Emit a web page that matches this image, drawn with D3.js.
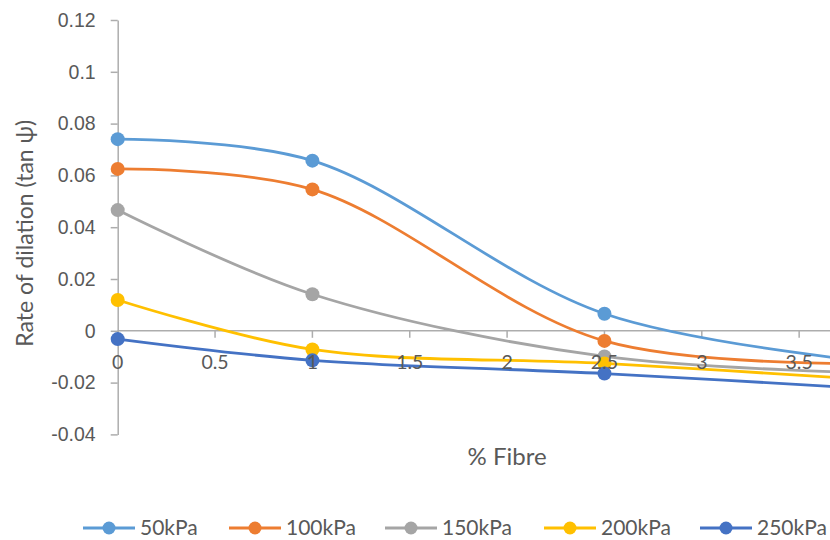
<!DOCTYPE html>
<html>
<head>
<meta charset="utf-8">
<script src="https://cdn.jsdelivr.net/npm/d3@7/dist/d3.min.js"></script>
<style>
  html, body { margin: 0; padding: 0; background: #fff; }
  svg { display: block; font-family: Lato, "Open Sans", sans-serif; }
</style>
</head>
<body>
<svg id="chart" width="830" height="540"></svg>
<script>
// Fibre content (%) at which dilation was measured
const fibre = [0, 1, 2.5, 4];

// Rate of dilation (tan ψ) per normal stress
const s50  = [0.0740, 0.0657, 0.0066, -0.0130];
const s100 = [0.0625, 0.0546, -0.0039, -0.0125];
const s150 = [0.0466, 0.0141, -0.0099, -0.0165];
const s200 = [0.0119, -0.0072, -0.0126, -0.0195];
const s250 = [-0.0032, -0.0114, -0.0165, -0.0230];

const seriesNames = ["50kPa", "100kPa", "150kPa", "200kPa", "250kPa"];
const seriesValues = [s50, s100, s150, s200, s250];
const colors = ["#5B9BD5", "#ED7D31", "#A5A5A5", "#FFC000", "#4472C4"];

const xTicks = [0, 0.5, 1, 1.5, 2, 2.5, 3, 3.5, 4];
const xTickLabels = ["0", "0.5", "1", "1.5", "2", "2.5", "3", "3.5"];
const yTicks = [0.12, 0.1, 0.08, 0.06, 0.04, 0.02, 0, -0.02, -0.04];
const yTickLabels = ["0.12", "0.1", "0.08", "0.06", "0.04", "0.02", "0", "-0.02", "-0.04"];

const svg = d3.select("#chart");
const axisColor = "#ADADAD";
const textColor = "#595959";

const x = d3.scaleLinear().domain([0, 4]).range([117.7, 896.5]);
const y = d3.scaleLinear().domain([-0.04, 0.12]).range([434.4, 20]);

// y axis
const yAxis = svg.append("g")
  .attr("transform", `translate(${x(0)},0)`)
  .call(d3.axisLeft(y).tickValues(yTicks)
    .tickFormat((d, i) => yTickLabels[i]).tickSize(7).tickPadding(15).tickSizeOuter(0));
yAxis.select(".domain").attr("stroke", axisColor).attr("stroke-width", 1.5);
yAxis.selectAll(".tick line").attr("stroke", axisColor).attr("stroke-width", 1.5);
yAxis.selectAll("text").attr("fill", textColor).style("font-size", "19.5px");

// x axis drawn along y = 0
const xAxisG = svg.append("g")
  .attr("transform", `translate(0,${y(0)})`);
xAxisG.append("line")
  .attr("x1", x(0)).attr("x2", 830)
  .attr("stroke", axisColor).attr("stroke-width", 1.5);
xAxisG.selectAll("line.tick").data(xTicks).join("line")
  .attr("class", "tick")
  .attr("x1", d => x(d)).attr("x2", d => x(d))
  .attr("y1", 0).attr("y2", 7)
  .attr("stroke", axisColor).attr("stroke-width", 1.5);

// smoothed curves through the measured points
const line = d3.line()
  .x((d, i) => x(fibre[i]))
  .y(d => y(d))
  .curve(d3.curveCatmullRom.alpha(0.5));

const plot = svg.append("g");
seriesValues.forEach((vals, k) => {
  plot.append("path")
    .attr("d", line(vals))
    .attr("fill", "none")
    .attr("stroke", colors[k])
    .attr("stroke-width", 2.8)
    .attr("stroke-linecap", "round");
});
seriesValues.forEach((vals, k) => {
  plot.selectAll(null).data(vals).join("circle")
    .attr("cx", (d, i) => x(fibre[i]))
    .attr("cy", d => y(d))
    .attr("r", 7)
    .attr("fill", colors[k]);
});

// x tick labels sit above the series
svg.append("g").selectAll("text").data(xTickLabels).join("text")
  .attr("x", (d, i) => x(xTicks[i]))
  .attr("y", y(0) + 38)
  .attr("text-anchor", "middle")
  .attr("fill", textColor)
  .style("font-size", "19.5px")
  .text(d => d);

// axis titles
svg.append("text")
  .attr("x", (x(0) + x(4)) / 2)
  .attr("y", 465)
  .attr("text-anchor", "middle")
  .attr("fill", textColor)
  .style("font-size", "24px")
  .text("% Fibre");

svg.append("text")
  .attr("transform", `translate(33,${(y(0.12) + y(-0.04)) / 2 + 6}) rotate(-90)`)
  .attr("text-anchor", "middle")
  .attr("fill", textColor)
  .style("font-size", "23px")
  .text("Rate of dilation (tan ψ)");

// legend
const legendX = [83, 229, 385, 544, 700];
const legend = svg.append("g").attr("transform", "translate(0,528)");
seriesNames.forEach((name, k) => {
  const g = legend.append("g").attr("transform", `translate(${legendX[k]},0)`);
  g.append("line").attr("x1", 0).attr("x2", 52)
    .attr("stroke", colors[k]).attr("stroke-width", 2.8);
  g.append("circle").attr("cx", 26).attr("r", 6.5).attr("fill", colors[k]);
  g.append("text").attr("x", 57).attr("y", 6.5)
    .attr("fill", textColor).style("font-size", "21px").text(name);
});
</script>
</body>
</html>
